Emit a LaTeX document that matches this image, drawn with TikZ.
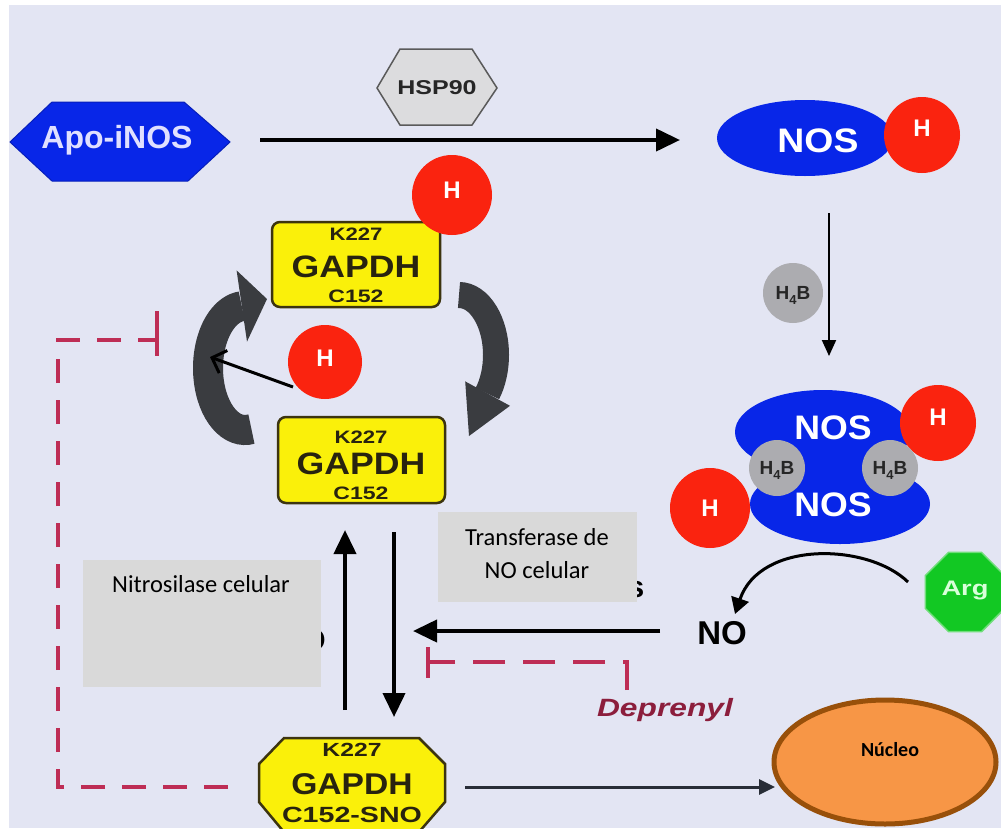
\documentclass[tikz,border=0pt]{standalone}
\usepackage{fontspec}
\setmainfont{Liberation Sans}
\newfontfamily\calib{Carlito}
\usepackage{graphicx}
\usetikzlibrary{arrows.meta,shapes.geometric}
\newcommand\myfs[1]{\fontsize{#1}{#1}\selectfont}
\newcommand\hsx[2]{\scalebox{#1}[1]{#2}}
\definecolor{bg}{RGB}{227,229,243}
\definecolor{nosblue}{RGB}{8,38,232}
\definecolor{hred}{RGB}{250,35,15}
\definecolor{gry}{RGB}{172,172,176}
\definecolor{ylw}{RGB}{250,240,10}
\definecolor{olive}{RGB}{60,52,15}
\definecolor{argg}{RGB}{18,200,35}
\definecolor{dred}{RGB}{190,45,85}
\definecolor{depr}{RGB}{140,30,60}
\definecolor{cyc}{RGB}{58,60,64}
\definecolor{txtbox}{RGB}{217,217,217}
\definecolor{nucfill}{RGB}{247,150,70}
\definecolor{nucdraw}{RGB}{152,80,10}
\definecolor{hspg}{RGB}{220,220,222}
\definecolor{hspd}{RGB}{90,90,90}
\definecolor{gtxt}{RGB}{40,35,15}
\definecolor{arrg}{RGB}{40,45,55}
\begin{document}
\begin{tikzpicture}[x=1pt,y=-1pt,
  blk/.style={line width=4pt,draw=black,-{Triangle[length=24pt,width=22pt]}},
  inh/.style={draw=dred,line width=4pt,dash pattern=on 24pt off 17pt},
  tbar/.style={draw=dred,line width=4pt},
  hcirc/.style={circle,fill=hred,inner sep=0pt},
  htext/.style={inner sep=0pt,text=white,font=\bfseries\myfs{24}},
  wtext/.style={inner sep=0pt,text=white},
  gbox/.style={draw=olive,fill=ylw,line width=2.5pt,rounded corners=8pt,inner sep=0pt},
  gt/.style={inner sep=0pt,text=gtxt},
  cyca/.style={draw=cyc,line width=28pt},
  h4b/.style={circle,fill=gry,inner sep=0pt},
  h4bt/.style={inner sep=0pt,text=black!85,font=\bfseries\myfs{19}},
  tbox/.style={fill=txtbox,inner sep=0pt,anchor=north west},
  cal/.style={inner sep=0pt,font=\calib\myfs{24.5}},
]
\fill[white] (0,0) rectangle (1001,828);
\fill[bg] (9,5) rectangle (1001,828);
\useasboundingbox (0,0) rectangle (1001,828);

% Apo-iNOS
\filldraw[fill=nosblue,draw=nosblue!80!black,line width=1pt] (10,142) -- (52,102) -- (184,102) -- (230,142) -- (188,181) -- (52,181) -- cycle;
\node[wtext,text=white!88!blue,font=\bfseries\myfs{32}] (apo) at (117,140) {Apo-iNOS};
% HSP90
\filldraw[fill=hspg,draw=hspd,line width=1.5pt] (377,88) -- (400,49) -- (472,49) -- (497,88) -- (472,125) -- (400,125) -- cycle;
\node[inner sep=0pt,text=black!85,font=\bfseries\myfs{20}] (hsp) at (437,88) {\hsx{1.25}{HSP90}};
\coordinate (apoR) at (260,140);
\coordinate (nosL) at (680,140);
\draw[blk] (apoR) -- (nosL);

% top NOS
\fill[nosblue] (805,138) ellipse [x radius=88,y radius=38];
\node[hcirc,minimum size=76pt] (hn) at (922,135) {};
\node[wtext,font=\bfseries\myfs{34}] (nos1) at (818,141) {\hsx{1.1}{NOS}};
\node[htext] (hnt) at (922,128) {H};

% H4B arrow
\coordinate (n1b) at (829,213);
\coordinate (cxt) at (829,356);
\draw[line width=2pt,-{Triangle[length=16pt,width=14pt]}] (n1b) -- (cxt);
\node[h4b,minimum size=60pt] (hb1) at (793,293) {};
\node[h4bt] (hb1t) at (793,295) {H\raisebox{-5pt}{\myfs{13}4}B};

% complex
\fill[nosblue] (823,432) ellipse [x radius=88,y radius=42];
\fill[nosblue] (840,504) ellipse [x radius=90,y radius=40];
\fill[nosblue] (790,440) rectangle (880,500);
\node[hcirc,minimum size=76pt] (hc1) at (938,423) {};
\node[hcirc,minimum size=80pt] (hc2) at (710,508) {};
\node[h4b,minimum size=56pt] (hb2) at (777,468) {};
\node[h4b,minimum size=56pt] (hb3) at (890,468) {};
\node[h4bt] (hb2t) at (777,470) {H\raisebox{-5pt}{\myfs{13}4}B};
\node[h4bt] (hb3t) at (890,470) {H\raisebox{-5pt}{\myfs{13}4}B};
\node[wtext,font=\bfseries\myfs{34}] (nos2) at (833,428) {\hsx{1.05}{NOS}};
\node[wtext,font=\bfseries\myfs{34}] (nos3) at (833,505) {\hsx{1.05}{NOS}};
\node[htext] (hc1t) at (938,417) {H};
\node[htext] (hc2t) at (710,508) {H};

% Arg and NO
\node[regular polygon,regular polygon sides=8,minimum size=86pt,fill=argg,draw=argg!60!white,line width=1.5pt,inner sep=0pt] (arg) at (965,592) {};
\node[wtext,text=white!85!green,font=\bfseries\myfs{21}] (argt) at (965,590) {\hsx{1.3}{Arg}};
\coordinate (argL) at (908,582);
\coordinate (noT) at (735,614);
\draw[line width=3pt,-{Triangle[length=16pt,width=18pt]}] (argL) .. controls (868,543) and (760,540) .. (noT);
\node[inner sep=0pt,font=\bfseries\myfs{33}] (no) at (722,633) {NO};
\coordinate (noL) at (660,631);
\coordinate (vR) at (413,631);
\draw[blk] (noL) -- (vR);

% cycle arrows
\draw[cyca,line width=30pt] (245,368) ++(80:37 and 62) arc[start angle=80,end angle=265,x radius=37,y radius=62];
\fill[cyc] (236.6,270.4) -- (267,299) -- (247,341.6) -- cycle;
\draw[cyca,line width=26pt] (459,355) ++(-90:37 and 60) arc[start angle=-90,end angle=40,x radius=37,y radius=60];
\fill[cyc] (510,405.8) -- (469,436) -- (465.2,381.4) -- cycle;

% GAPDH boxes
\node[gbox,minimum width=168pt,minimum height=85pt] (g1) at (356,264.5) {};
\node[gt,font=\bfseries\myfs{18}] (g1a) at (356,234) {\hsx{1.23}{K227}};
\node[gt,font=\bfseries\myfs{31}] (g1b) at (356,267) {\hsx{1.15}{GAPDH}};
\node[gt,font=\bfseries\myfs{18}] (g1c) at (356,296) {\hsx{1.28}{C152}};
\node[hcirc,minimum size=80pt] (ht) at (452,195) {};
\node[htext] (htt) at (452,190) {H};

\node[gbox,minimum width=167pt,minimum height=86pt] (g2) at (361.5,460) {};
\node[gt,font=\bfseries\myfs{18}] (g2a) at (361,437) {\hsx{1.23}{K227}};
\node[gt,font=\bfseries\myfs{31}] (g2b) at (361,464) {\hsx{1.15}{GAPDH}};
\node[gt,font=\bfseries\myfs{18}] (g2c) at (361,493) {\hsx{1.28}{C152}};

\coordinate (hmL) at (293,387);
\coordinate (hmT) at (210,357);
\draw[line width=3pt,-{Straight Barb[length=12pt,width=24pt,line width=3pt]}] (hmL) -- (hmT);
\node[hcirc,minimum size=74pt] (hm) at (325,362) {};
\node[htext] (hmt) at (325,358) {H};

% hidden fragments and text boxes
\node[inner sep=0pt,font=\bfseries\myfs{30}] (frag1) at (636,590) {s};
\node[inner sep=0pt,font=\bfseries\myfs{30}] (frag2) at (314,640) {O};
\node[tbox,minimum width=238pt,minimum height=127pt] (nitro) at (83,560) {};
\node[cal] (nitrot) at (201,584) {Nitrosilase celular};
\node[tbox,minimum width=199pt,minimum height=90pt] (trans) at (438,512) {};
\node[cal] (transa) at (537,537) {Transferase de};
\node[cal] (transb) at (537,570) {NO celular};

% vertical arrows
\coordinate (upB) at (345,710);
\coordinate (upT) at (345,530);
\coordinate (dnT) at (394,532);
\coordinate (dnB) at (394,717);
\draw[blk] (upB) -- (upT);
\draw[blk] (dnT) -- (dnB);

% Deprenyl
\coordinate (dp1) at (627,690);
\coordinate (dp2) at (627,662);
\coordinate (dp3) at (430,662);
\draw[inh,dash pattern=on 32pt off 18pt] (dp1) -- (dp2) -- (dp3);
\draw[tbar] (428,647) -- (428,678);
\node[inner sep=0pt,text=depr,font=\bfseries\itshape\myfs{25}] (dep) at (665,710) {\hsx{1.27}{Deprenyl}};

% left inhibition
\coordinate (d1) at (228,787);
\coordinate (d2) at (58,787);
\coordinate (d3) at (58,340);
\coordinate (d4) at (157,340);
\draw[inh] (d1) -- (d2) -- (d3) -- (d4);
\draw[tbar] (157,311) -- (157,356);

% GAPDH-SNO
\filldraw[fill=ylw,draw=olive,line width=2.5pt] (284,738) -- (419,738) -- (445,764) -- (445,802) -- (419,832) -- (284,832) -- (259,802) -- (259,764) -- cycle;
\node[gt,font=\bfseries\myfs{19}] (s1) at (352,750) {\hsx{1.3}{K227}};
\node[gt,font=\bfseries\myfs{30}] (s2) at (352,784) {\hsx{1.12}{GAPDH}};
\node[gt,font=\bfseries\myfs{22}] (s3) at (352,815) {\hsx{1.3}{C152-SNO}};

% nucleus
\node[ellipse,fill=nucfill,draw=nucdraw,line width=5pt,minimum width=222pt,minimum height=124pt,inner sep=0pt] (nuc) at (885,762) {};
\node[inner sep=0pt,font=\calib\bfseries\myfs{20}] (nuct) at (890,750) {Núcleo};
\coordinate (snoR) at (465,787);
\coordinate (nucL) at (775,787);
\draw[line width=3pt,draw=arrg,-{Triangle[length=16pt,width=15pt]}] (snoR) -- (nucL);
\end{tikzpicture}
\end{document}
